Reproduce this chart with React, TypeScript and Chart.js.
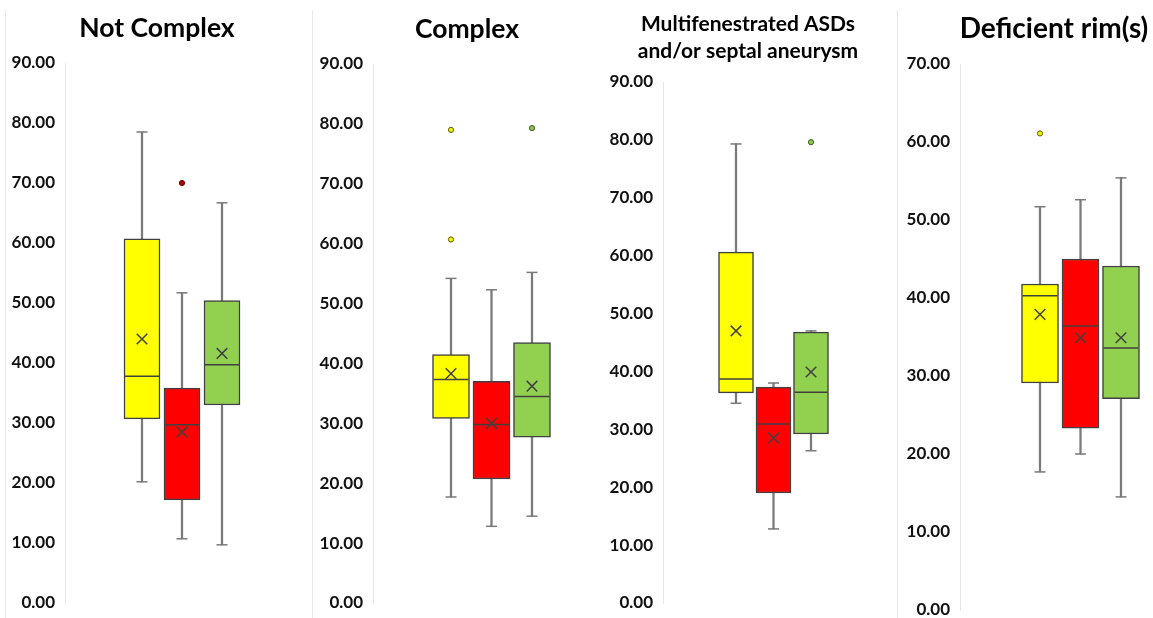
import React, { useEffect, useRef } from 'react';
import { Chart, registerables } from 'chart.js';

Chart.register(...registerables);

// ---------- data ----------
const groupPositions = [1, 2, 3];
const boxColors = ['#FFFF00', '#FF0000', '#92D050'];
const outlierFill = ['#F0F000', '#B00000', '#8CC850'];
const outlierBorder = ['#5E5E00', '#6E0000', '#3C5E20'];

const notComplexMin = [20.2, 10.7, 9.7];
const notComplexQ1 = [30.7, 17.2, 33.0];
const notComplexMedian = [37.8, 29.7, 39.7];
const notComplexQ3 = [60.7, 35.8, 50.4];
const notComplexMax = [78.5, 51.7, 66.7];
const notComplexMean = [44.0, 28.5, 41.6];
const notComplexOutliers = [[], [70.0], []];

const complexMin = [17.7, 12.8, 14.5];
const complexQ1 = [30.8, 20.7, 27.7];
const complexMedian = [37.3, 29.8, 34.5];
const complexQ3 = [41.5, 37.0, 43.5];
const complexMax = [54.2, 52.3, 55.2];
const complexMean = [38.3, 30.0, 36.2];
const complexOutliers = [[79.0, 60.7], [], [79.3]];

const multiMin = [34.5, 12.8, 26.3];
const multiQ1 = [36.3, 19.0, 29.2];
const multiMedian = [38.7, 30.9, 36.4];
const multiQ3 = [60.6, 37.3, 46.8];
const multiMax = [79.3, 38.0, 47.0];
const multiMean = [47.0, 28.5, 39.9];
const multiOutliers = [[], [], [79.6]];

const rimMin = [17.7, 20.0, 14.5];
const rimQ1 = [29.1, 23.3, 27.1];
const rimMedian = [40.3, 36.4, 33.6];
const rimQ3 = [41.8, 45.0, 44.1];
const rimMax = [51.7, 52.6, 55.4];
const rimMean = [37.9, 34.9, 34.9];
const rimOutliers = [[61.1], [], []];

const titleNotComplex = ['Not Complex'];
const titleComplex = ['Complex'];
const titleMulti = ['Multifenestrated ASDs', 'and/or septal aneurysm'];
const titleRim = ['Deficient rim(s)'];

const yMaxA = 90;
const yMaxB = 70;
const yStep = 10;

// ---------- layout ----------
const H = 618;
const CANVAS_H = 660;
const RIGHT_PAD = 24;

type Panel = {
  title: string[];
  min: number[]; q1: number[]; median: number[]; q3: number[]; max: number[]; mean: number[];
  outliers: number[][];
  yMax: number;
  left: number; titleCenter: number; axisX: number; areaTop: number; areaBottom: number;
  firstCenter: number; spacing: number; boxWidth: number;
  titleSize: number; titleLH: number; titleTop: number;
};

const panels: Panel[] = [
  {
    title: titleNotComplex, min: notComplexMin, q1: notComplexQ1, median: notComplexMedian, q3: notComplexQ3,
    max: notComplexMax, mean: notComplexMean, outliers: notComplexOutliers, yMax: yMaxA,
    left: 0, titleCenter: 157, axisX: 65, areaTop: 63, areaBottom: 603,
    firstCenter: 142, spacing: 40, boxWidth: 36, titleSize: 26.5, titleLH: 1.2, titleTop: 13,
  },
  {
    title: titleComplex, min: complexMin, q1: complexQ1, median: complexMedian, q3: complexQ3,
    max: complexMax, mean: complexMean, outliers: complexOutliers, yMax: yMaxA,
    left: 312, titleCenter: 467, axisX: 373, areaTop: 64, areaBottom: 603,
    firstCenter: 451, spacing: 40.5, boxWidth: 37, titleSize: 26.5, titleLH: 1.2, titleTop: 14,
  },
  {
    title: titleMulti, min: multiMin, q1: multiQ1, median: multiMedian, q3: multiQ3,
    max: multiMax, mean: multiMean, outliers: multiOutliers, yMax: yMaxA,
    left: 602, titleCenter: 748, axisX: 663, areaTop: 82, areaBottom: 603,
    firstCenter: 736, spacing: 37.5, boxWidth: 35, titleSize: 21, titleLH: 1.29, titleTop: 11,
  },
  {
    title: titleRim, min: rimMin, q1: rimQ1, median: rimMedian, q3: rimQ3,
    max: rimMax, mean: rimMean, outliers: rimOutliers, yMax: yMaxB,
    left: 897, titleCenter: 1054, axisX: 960, areaTop: 64, areaBottom: 610,
    firstCenter: 1040, spacing: 40.5, boxWidth: 37, titleSize: 28, titleLH: 1.2, titleTop: 12,
  },
];

const borderLines = [5, 312, 897];

function BoxPanel({ p }: { p: Panel }) {
  const ref = useRef<HTMLCanvasElement>(null);
  const areaW = Math.round(2 * (p.titleCenter - p.left));
  const width = areaW + RIGHT_PAD;
  useEffect(() => {
    if (!ref.current) return;
    const s = p.spacing;
    const xMin = 1 - (p.firstCenter - p.axisX) / s;
    const xMax = xMin + (p.left + areaW - p.axisX) / s;
    const titleH = p.title.length * p.titleSize * p.titleLH;
    const titleBottom = p.areaTop - p.titleTop - titleH;

    const whiskers = groupPositions.map((x, i) => ({ x, y: [p.min[i], p.max[i]] }));
    const boxes = groupPositions.map((x, i) => ({ x, y: [p.q1[i], p.q3[i]] }));
    const caps: { x: number; y: number }[] = [];
    groupPositions.forEach((x, i) => {
      caps.push({ x, y: p.min[i] });
      caps.push({ x, y: p.max[i] });
    });
    const medians = groupPositions.map((x, i) => ({ x, y: p.median[i] }));
    const means = groupPositions.map((x, i) => ({ x, y: p.mean[i] }));
    const outPts: { x: number; y: number }[] = [];
    const outFill: string[] = [];
    const outBorder: string[] = [];
    groupPositions.forEach((x, i) => {
      p.outliers[i].forEach((v) => {
        outPts.push({ x, y: v });
        outFill.push(outlierFill[i]);
        outBorder.push(outlierBorder[i]);
      });
    });

    const chart = new Chart(ref.current, {
      type: 'bar',
      data: {
        datasets: [
          {
            type: 'bar', data: whiskers as any, backgroundColor: '#7A7A7A', barThickness: 1.6,
            grouped: false, order: 5, borderWidth: 0,
          } as any,
          {
            type: 'bar', data: boxes as any, backgroundColor: boxColors, borderColor: '#404040',
            borderWidth: 1.5, borderSkipped: false, barThickness: p.boxWidth, grouped: false, order: 4,
          } as any,
          {
            type: 'scatter', data: caps, pointStyle: 'line', pointRadius: 5.5, borderColor: '#7A7A7A',
            borderWidth: 1.5, order: 3,
          } as any,
          {
            type: 'scatter', data: medians, pointStyle: 'line', pointRadius: p.boxWidth / 2 - 1, borderColor: '#404040',
            borderWidth: 1.5, order: 2,
          } as any,
          {
            type: 'scatter', data: means, pointStyle: 'crossRot', pointRadius: 7.5, borderColor: '#404040',
            borderWidth: 1.5, order: 1,
          } as any,
          {
            type: 'scatter', data: outPts, pointStyle: 'circle', pointRadius: 2.6, backgroundColor: outFill,
            borderColor: outBorder, borderWidth: 1, order: 0,
          } as any,
        ],
      },
      options: {
        responsive: false,
        animation: false,
        events: [],
        layout: {
          padding: { left: 0, top: 0, right: RIGHT_PAD, bottom: CANVAS_H - p.areaBottom },
        },
        plugins: {
          legend: { display: false },
          tooltip: { enabled: false },
          title: {
            display: true,
            text: p.title,
            fullSize: true,
            color: '#000000',
            font: { family: 'Lato', size: p.titleSize, weight: 'bold', lineHeight: p.titleLH },
            padding: { top: p.titleTop, bottom: titleBottom },
          },
        },
        scales: {
          x: { type: 'linear', min: xMin, max: xMax, display: false, offset: false, ticks: { display: false } },
          y: {
            type: 'linear',
            min: 0,
            max: p.yMax,
            afterFit: (scale: any) => { scale.width = p.axisX - p.left; },
            ticks: {
              stepSize: yStep,
              padding: 0,
              color: '#111111',
              font: { family: 'Lato', size: 17, weight: 'bold', lineHeight: 1 },
              callback: (v: any) => Number(v).toFixed(2),
            },
            grid: { display: true, color: 'rgba(0,0,0,0)', drawTicks: true, tickLength: 10 },
            border: { display: true, color: '#E6E6E6', width: 1 },
          },
        },
      } as any,
    });
    return () => chart.destroy();
  }, [p]);
  return (
    <canvas
      ref={ref}
      width={width}
      height={CANVAS_H}
      style={{ position: 'absolute', left: p.left, top: 0, width, height: CANVAS_H }}
    />
  );
}

export default function App() {
  return (
    <div style={{ position: 'fixed', left: 0, top: 0, width: 1153, height: H, background: '#FFFFFF', overflow: 'hidden' }}>
      {borderLines.map((x) => (
        <div key={x} style={{ position: 'absolute', left: x, top: 10, width: 1, height: H - 10, background: '#E8E8E8' }} />
      ))}
      {panels.map((p, i) => (
        <BoxPanel key={i} p={p} />
      ))}
    </div>
  );
}
